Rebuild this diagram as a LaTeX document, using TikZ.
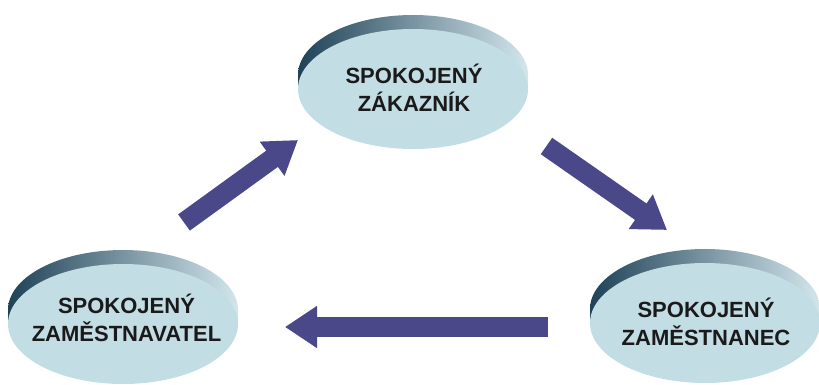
\documentclass[tikz,border=0pt]{standalone}
\usepackage{fontspec}
\setmainfont{Liberation Sans}
\usetikzlibrary{arrows.meta}
\definecolor{facecol}{HTML}{C3DDE5}
\definecolor{rimdark}{HTML}{1F4257}
\definecolor{rimmid}{HTML}{8FAFBF}
\definecolor{rimlight}{HTML}{D3E6EC}
\definecolor{arrowcol}{HTML}{4A4888}
\definecolor{txtcol}{HTML}{1A1A1A}
\tikzset{
  lbl/.style={align=center, text=txtcol, inner sep=0pt,
    font=\fontsize{22}{28}\selectfont\bfseries},
  fatarrow/.style={draw=arrowcol, line width=20pt,
    -{Triangle[length=32pt,width=40pt]}},
  rim/.style={left color=rimdark, middle color=rimmid, right color=rimlight},
  face/.style={fill=facecol}
}
\newcommand{\disc}[2]{%
  \shade[rim] (#1,#2-14) ellipse [x radius=115pt, y radius=60pt]
     (#1-115,#2-14) rectangle (#1+115,#2);
  \fill[face] (#1,#2) ellipse [x radius=115pt, y radius=60pt];
}
\begin{document}
\begin{tikzpicture}[x=1pt,y=-1pt]
\useasboundingbox (0,0) rectangle (819,385);
\disc{413}{89}
\disc{123}{324}
\disc{705}{323}
\node[lbl] (zak) at (414,87.6) {SPOKOJENÝ\\ZÁKAZNÍK};
\node[lbl] (zvl) at (126.5,317.6) {SPOKOJENÝ\\ZAMĚSTNAVATEL};
\node[lbl] (zec) at (706,321.6) {SPOKOJENÝ\\ZAMĚSTNANEC};
\coordinate (a1s) at (184,222.5);
\coordinate (a1e) at (298,140);
\coordinate (a2s) at (546.5,146);
\coordinate (a2e) at (667,230);
\coordinate (a3s) at (548,327);
\coordinate (a3e) at (285,327);
\draw[fatarrow] (a1s) -- (a1e);
\draw[fatarrow] (a2s) -- (a2e);
\draw[fatarrow] (a3s) -- (a3e);
\end{tikzpicture}
\end{document}
